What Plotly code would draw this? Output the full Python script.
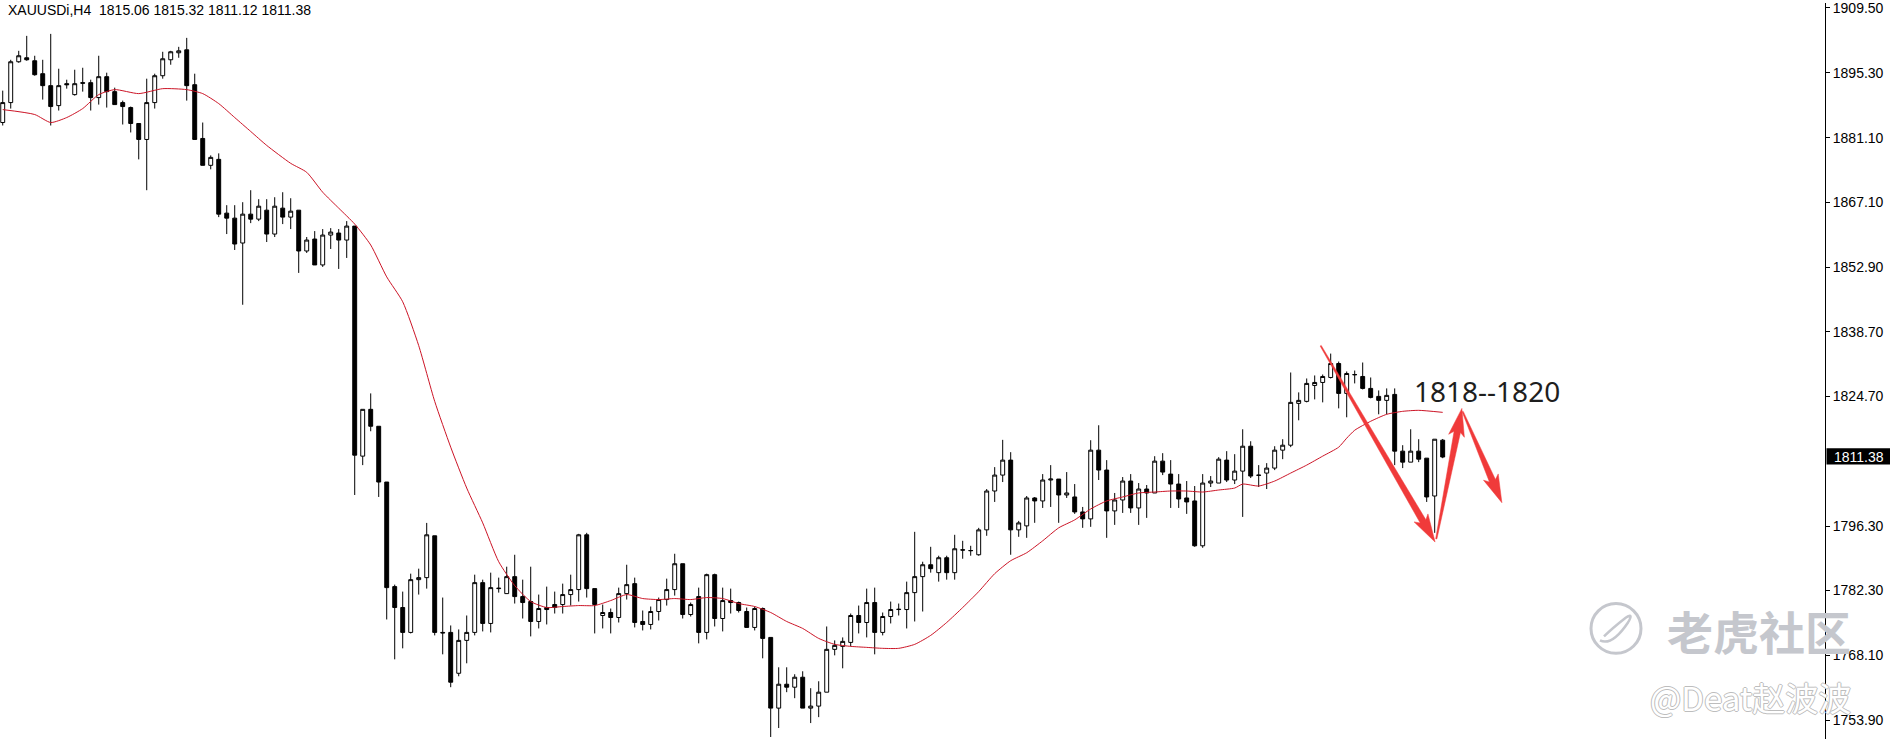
import math
import plotly.graph_objects as go

# ---------------- data ----------------
opens = [1884.47, 1888.83, 1897.75, 1898.62, 1897.97, 1895.14, 1892.53, 1888.17, 1892.96, 1890.57,
         1893.18, 1893.18, 1889.92, 1894.49, 1891.22, 1888.83, 1887.74, 1884.26, 1880.77, 1888.83,
         1894.70, 1898.19, 1899.71, 1900.36, 1892.74, 1880.99, 1875.12, 1876.42, 1864.67, 1863.58,
         1858.14, 1864.45, 1863.36, 1865.32, 1860.10, 1865.76, 1863.80, 1865.32, 1856.40, 1859.01,
         1853.35, 1859.88, 1860.32, 1858.79, 1861.84, 1811.57, 1821.80, 1818.10, 1805.91, 1783.06,
         1778.49, 1773.05, 1784.58, 1785.02, 1794.16, 1773.05, 1773.05, 1764.12, 1771.31, 1773.05,
         1783.93, 1775.01, 1782.62, 1781.53, 1785.24, 1780.88, 1779.80, 1775.44, 1778.49, 1779.14,
         1779.14, 1781.32, 1782.41, 1794.38, 1782.62, 1776.75, 1777.40, 1776.31, 1781.53, 1783.71,
         1775.44, 1774.79, 1777.62, 1780.23, 1782.41, 1788.06, 1776.96, 1780.88, 1773.05, 1785.67,
         1776.09, 1780.01, 1779.58, 1777.62, 1774.14, 1778.27, 1771.96, 1756.51, 1761.73, 1761.08,
         1763.26, 1756.51, 1756.95, 1759.99, 1769.35, 1770.00, 1770.87, 1776.75, 1775.22, 1779.58,
         1773.05, 1776.53, 1778.05, 1778.05, 1781.75, 1785.24, 1787.84, 1786.11, 1789.37, 1786.11,
         1791.11, 1790.89, 1790.02, 1795.46, 1803.95, 1807.43, 1810.70, 1795.46, 1796.33, 1802.43,
         1801.78, 1806.35, 1806.56, 1803.08, 1802.65, 1799.38, 1797.86, 1812.88, 1808.53, 1799.60,
         1801.99, 1806.13, 1800.25, 1804.38, 1803.52, 1810.48, 1807.65, 1805.47, 1802.43, 1801.78,
         1791.98, 1805.69, 1805.69, 1810.70, 1806.35, 1808.30, 1813.74, 1807.43, 1807.87, 1808.96,
         1812.88, 1813.96, 1823.10, 1823.54, 1827.02, 1827.67, 1828.76, 1831.81, 1825.28, 1829.41,
         1828.98, 1826.37, 1824.63, 1823.76, 1825.06, 1812.66, 1810.26, 1812.66, 1811.13, 1802.86,
         1815.06]
highs = [1891.44, 1898.18, 1900.14, 1903.41, 1899.06, 1898.18, 1903.84, 1896.23, 1893.83, 1896.01,
         1896.44, 1893.83, 1899.06, 1895.36, 1892.09, 1889.26, 1887.96, 1884.26, 1894.05, 1895.14,
         1899.93, 1900.14, 1901.01, 1902.97, 1895.14, 1884.47, 1877.29, 1877.73, 1866.41, 1866.41,
         1867.06, 1869.68, 1867.72, 1867.72, 1868.15, 1869.24, 1867.93, 1865.32, 1859.45, 1860.75,
         1861.19, 1861.40, 1861.19, 1862.93, 1861.84, 1821.80, 1825.28, 1818.10, 1805.91, 1783.49,
         1781.97, 1785.89, 1786.98, 1796.98, 1794.16, 1780.67, 1774.57, 1773.70, 1776.75, 1785.67,
         1784.58, 1786.11, 1785.02, 1787.41, 1790.02, 1784.58, 1787.41, 1781.32, 1783.06, 1781.97,
         1783.71, 1785.67, 1794.59, 1794.81, 1782.62, 1779.14, 1778.27, 1782.84, 1787.84, 1785.02,
         1777.84, 1778.71, 1780.67, 1784.80, 1790.24, 1788.06, 1779.58, 1782.84, 1785.89, 1785.89,
         1782.84, 1782.62, 1779.79, 1778.49, 1778.71, 1778.49, 1771.96, 1765.43, 1765.43, 1763.91,
         1764.56, 1760.86, 1762.38, 1774.35, 1771.31, 1771.96, 1777.18, 1778.92, 1782.62, 1782.84,
         1777.40, 1779.79, 1779.36, 1784.15, 1795.03, 1788.50, 1791.76, 1789.81, 1789.81, 1794.38,
         1793.07, 1791.98, 1795.90, 1804.38, 1809.17, 1815.13, 1812.44, 1797.42, 1802.86, 1802.64,
         1807.65, 1809.61, 1806.56, 1808.09, 1805.47, 1800.47, 1815.05, 1818.32, 1810.70, 1803.52,
         1807.00, 1807.65, 1805.69, 1805.26, 1811.56, 1812.22, 1810.70, 1807.65, 1806.13, 1805.04,
         1807.65, 1807.22, 1811.35, 1812.66, 1812.00, 1817.44, 1814.83, 1809.61, 1810.04, 1813.74,
         1815.27, 1829.85, 1825.50, 1828.54, 1829.20, 1829.41, 1833.98, 1832.24, 1830.07, 1830.28,
         1832.03, 1828.76, 1825.93, 1826.37, 1826.37, 1813.96, 1817.44, 1815.27, 1811.13, 1815.27,
         1815.32]
lows = [1883.82, 1887.52, 1897.53, 1897.97, 1894.70, 1889.48, 1883.82, 1887.09, 1891.87, 1890.35,
        1891.22, 1887.09, 1888.39, 1887.74, 1888.39, 1884.04, 1882.30, 1876.42, 1869.68, 1887.52,
        1894.05, 1897.10, 1898.62, 1889.26, 1880.77, 1875.12, 1874.25, 1863.80, 1860.10, 1856.62,
        1844.65, 1862.49, 1862.93, 1858.36, 1859.45, 1862.28, 1861.19, 1851.61, 1855.97, 1853.35,
        1852.92, 1856.84, 1852.48, 1854.88, 1803.08, 1809.61, 1817.01, 1802.65, 1775.88, 1767.17,
        1769.57, 1772.83, 1781.32, 1782.62, 1772.40, 1768.26, 1761.08, 1763.47, 1766.30, 1772.40,
        1773.27, 1773.05, 1781.75, 1781.53, 1779.36, 1776.09, 1772.18, 1773.92, 1774.79, 1777.18,
        1777.18, 1778.92, 1779.79, 1780.67, 1772.83, 1773.92, 1772.83, 1775.22, 1780.23, 1774.14,
        1773.48, 1773.70, 1775.66, 1778.92, 1781.10, 1776.09, 1776.53, 1770.66, 1771.52, 1774.35,
        1773.27, 1777.18, 1777.40, 1774.14, 1773.48, 1767.39, 1750.20, 1752.16, 1759.99, 1758.68,
        1756.51, 1753.24, 1754.54, 1759.99, 1768.04, 1765.21, 1770.00, 1772.83, 1771.96, 1768.26,
        1772.40, 1775.01, 1776.75, 1773.92, 1775.44, 1777.62, 1786.11, 1784.15, 1784.58, 1784.58,
        1789.15, 1789.81, 1789.81, 1794.16, 1801.56, 1805.91, 1790.02, 1793.94, 1793.72, 1797.00,
        1800.25, 1800.47, 1797.00, 1802.43, 1798.95, 1795.90, 1796.12, 1806.35, 1793.72, 1796.55,
        1799.16, 1799.16, 1796.55, 1798.08, 1803.52, 1807.43, 1800.25, 1800.25, 1798.95, 1791.76,
        1791.54, 1804.82, 1805.69, 1805.91, 1805.47, 1798.29, 1806.78, 1804.82, 1804.38, 1808.52,
        1810.91, 1813.53, 1819.40, 1823.32, 1823.97, 1823.32, 1828.54, 1822.01, 1820.06, 1827.46,
        1826.15, 1824.19, 1820.71, 1820.71, 1809.61, 1808.96, 1810.26, 1810.26, 1801.56, 1794.81,
        1811.12]
closes = [1888.83, 1897.75, 1899.06, 1898.19, 1894.92, 1892.53, 1887.96, 1892.53, 1892.74, 1892.96,
          1893.07, 1889.92, 1894.49, 1891.22, 1888.39, 1887.96, 1884.26, 1880.77, 1888.83, 1894.70,
          1898.40, 1899.93, 1900.14, 1892.53, 1880.77, 1875.12, 1876.86, 1864.45, 1863.58, 1857.92,
          1864.45, 1863.36, 1866.19, 1860.10, 1866.19, 1863.80, 1865.10, 1856.40, 1858.79, 1853.35,
          1859.88, 1860.53, 1858.79, 1861.84, 1811.78, 1821.80, 1818.10, 1805.91, 1782.84, 1778.49,
          1773.05, 1784.58, 1785.02, 1794.38, 1773.05, 1772.95, 1762.17, 1771.31, 1773.05, 1783.93,
          1775.01, 1782.84, 1782.70, 1785.24, 1780.88, 1779.58, 1775.44, 1778.27, 1778.05, 1778.49,
          1781.32, 1782.41, 1794.38, 1782.62, 1779.14, 1777.40, 1776.31, 1781.53, 1783.49, 1775.22,
          1774.79, 1777.62, 1780.23, 1782.41, 1788.06, 1776.96, 1779.14, 1773.05, 1785.67, 1776.09,
          1780.01, 1779.58, 1777.84, 1774.14, 1778.27, 1771.74, 1756.51, 1761.73, 1761.08, 1763.26,
          1756.51, 1756.95, 1759.99, 1769.35, 1770.22, 1771.09, 1776.75, 1775.22, 1779.58, 1773.05,
          1776.53, 1778.05, 1778.10, 1781.75, 1785.24, 1787.84, 1786.98, 1789.37, 1786.11, 1791.33,
          1791.05, 1790.95, 1795.46, 1803.95, 1807.43, 1810.70, 1795.46, 1796.98, 1802.43, 1801.78,
          1806.35, 1806.56, 1803.08, 1803.52, 1799.38, 1797.86, 1812.88, 1808.53, 1799.60, 1801.99,
          1806.13, 1800.25, 1804.38, 1803.52, 1810.48, 1808.09, 1805.47, 1802.21, 1801.56, 1791.98,
          1805.69, 1806.13, 1810.91, 1806.35, 1808.30, 1813.74, 1807.22, 1807.38, 1808.96, 1812.88,
          1813.96, 1823.32, 1823.76, 1827.46, 1827.67, 1828.98, 1831.81, 1825.28, 1829.63, 1829.36,
          1826.37, 1824.41, 1823.76, 1824.85, 1812.66, 1810.26, 1812.66, 1810.91, 1802.65, 1815.27,
          1811.38]

# moving average (red line) read at selected candles
ma_index = [0, 4, 6, 8, 10, 12, 14, 17, 20, 23, 25, 27, 29, 31, 33, 36, 38, 40, 42, 44, 46, 48, 50,
            52, 54, 56, 58, 60, 62, 64, 66, 68, 70, 72, 74, 76, 78, 80, 82, 84, 86, 88, 90, 92, 94,
            96, 98, 100, 102, 104, 106, 108, 110, 112, 114, 116, 118, 120, 122, 124, 126, 128, 130,
            132, 134, 136, 138, 140, 142, 144, 146, 148, 150, 152, 154, 155, 157, 159, 161, 163, 165,
            167, 168, 169, 171, 173, 175, 177, 180]
ma_value = [1887.30, 1886.22, 1884.47, 1885.56, 1887.52, 1890.57, 1891.66, 1890.79, 1891.87, 1891.66,
            1890.79, 1888.61, 1885.56, 1882.52, 1879.47, 1875.55, 1873.59, 1869.24, 1865.76, 1862.28,
            1857.71, 1850.74, 1845.30, 1835.72, 1823.54, 1813.53, 1804.60, 1796.99, 1788.50, 1783.28,
            1779.80, 1778.49, 1778.71, 1778.92, 1778.92, 1780.01, 1781.32, 1780.45, 1780.23, 1780.45,
            1780.23, 1780.67, 1780.45, 1779.36, 1778.71, 1777.40, 1775.44, 1773.92, 1771.74, 1770.44,
            1770.00, 1769.78, 1769.57, 1769.57, 1770.44, 1772.40, 1775.22, 1778.49, 1781.97, 1785.89,
            1788.72, 1790.46, 1793.07, 1795.90, 1797.64, 1800.03, 1801.78, 1802.65, 1803.52, 1803.73,
            1803.95, 1803.95, 1803.73, 1804.17, 1804.60, 1805.47, 1805.04, 1806.13, 1807.87, 1809.61,
            1811.57, 1813.53, 1815.49, 1817.23, 1819.19, 1820.71, 1821.36, 1821.58, 1821.14]

y_tick_values = [1909.50, 1895.30, 1881.10, 1867.10, 1852.90, 1838.70, 1824.70,
                 1796.30, 1782.30, 1768.10, 1753.90]
last_price = 1811.38
header_text = "XAUUSDi,H4  1815.06 1815.32 1811.12 1811.38"
target_text = "1818--1820"
# hand-drawn arrows: (candle index, price) start -> tip
arrow_paths = [((164.75, 1835.7), (179.05, 1792.8)),
               ((179.2, 1793.5), (182.4, 1822.0)),
               ((182.5, 1821.3), (187.4, 1801.4))]

# ---------------- layout geometry ----------------
W, H = 1890, 739
PLOT_W = 1825
x_range = [-0.34, 227.79]
y_range = [1749.76, 1910.59]


def to_px(i, p):
    x = (i - x_range[0]) / (x_range[1] - x_range[0]) * PLOT_W
    y = (y_range[1] - p) / (y_range[1] - y_range[0]) * H
    return x, y


def to_data(x, y):
    i = x_range[0] + x / PLOT_W * (x_range[1] - x_range[0])
    p = y_range[1] - y / H * (y_range[1] - y_range[0])
    return i, p


def arrow_polygon(start, tip, w0=1.2, w1=6.5, head_len=24.0, head_w=16.0):
    sx, sy = to_px(*start)
    ex, ey = to_px(*tip)
    dx, dy = ex - sx, ey - sy
    L = math.hypot(dx, dy)
    ux, uy = dx / L, dy / L
    nx, ny = -uy, ux
    bx, by = ex - ux * head_len, ey - uy * head_len
    pts = [(sx + nx * w0 / 2, sy + ny * w0 / 2),
           (bx + nx * w1 / 2, by + ny * w1 / 2),
           (bx + nx * head_w / 2 - ux * 4, by + ny * head_w / 2 - uy * 4),
           (ex, ey),
           (bx - nx * head_w / 2 - ux * 4, by - ny * head_w / 2 - uy * 4),
           (bx - nx * w1 / 2, by - ny * w1 / 2),
           (sx - nx * w0 / 2, sy - ny * w0 / 2)]
    pts.append(pts[0])
    data = [to_data(x, y) for x, y in pts]
    return [d[0] for d in data], [d[1] for d in data]


def paper_x(px):
    return px / PLOT_W


def paper_y(py):
    return 1 - py / H


candle_x = list(range(len(opens)))

fig = go.Figure()
fig.add_trace(go.Candlestick(
    x=candle_x, open=opens, high=highs, low=lows, close=closes,
    increasing=dict(line=dict(color="black", width=1), fillcolor="white"),
    decreasing=dict(line=dict(color="black", width=1), fillcolor="black"),
    whiskerwidth=0, hoverinfo="skip", showlegend=False,
))
fig.add_trace(go.Scatter(
    x=ma_index, y=ma_value, mode="lines",
    line=dict(color="#cc1426", width=1, shape="spline", smoothing=0.6),
    hoverinfo="skip", showlegend=False,
))
for start, tip in arrow_paths:
    ax, ay = arrow_polygon(start, tip)
    fig.add_trace(go.Scatter(
        x=ax, y=ay, mode="lines", fill="toself", fillcolor="#f03a3a",
        line=dict(color="#f03a3a", width=0.5), hoverinfo="skip", showlegend=False,
    ))

annotations = [
    dict(text=header_text, xref="paper", yref="paper", x=0, y=1, xanchor="left", yanchor="top",
         xshift=6, yshift=3, showarrow=False,
         font=dict(family="Liberation Sans", size=14, color="black")),
    dict(text=target_text, xref="x", yref="y", x=185.5, y=1825.8, xanchor="center",
         yanchor="middle", showarrow=False,
         font=dict(family="Noto Sans", size=28, color="#1e1e1e")),
    dict(text=f"{last_price:.2f}", xref="paper", yref="y", x=1, y=last_price,
         xanchor="left", yanchor="middle", xshift=7, showarrow=False,
         font=dict(family="Liberation Sans", size=14, color="white")),
    dict(text="老虎社区", xref="paper", yref="paper", x=paper_x(1759), y=paper_y(630),
         xanchor="center", yanchor="middle", showarrow=False,
         font=dict(family="Noto Sans CJK SC", size=46, color="#c5c7cd", weight="bold")),
    dict(text="@Deat赵波波", xref="paper", yref="paper", x=paper_x(1750), y=paper_y(697),
         xanchor="center", yanchor="middle", showarrow=False,
         font=dict(family="Noto Sans CJK SC", size=33, color="#ffffff",
                   shadow="1px 0 0 #bdbdbd, -1px 0 0 #bdbdbd, 0 1px 0 #bdbdbd, 0 -1px 0 #bdbdbd")),
]

shapes = [
    # black price box on the axis
    dict(type="rect", xref="paper", yref="paper", x0=paper_x(1826.5), x1=paper_x(1892),
         y0=paper_y(463.5), y1=paper_y(447), fillcolor="black", line=dict(width=0), layer="below"),
    # watermark logo ring
    dict(type="circle", xref="paper", yref="paper", x0=paper_x(1591), x1=paper_x(1641),
         y0=paper_y(653), y1=paper_y(603), line=dict(color="#c5c7cd", width=3), layer="above"),
    dict(type="path", xref="paper", yref="paper", layer="above",
         path=(f"M {paper_x(1600)},{paper_y(640)} "
               f"Q {paper_x(1612)},{paper_y(646)} {paper_x(1628)},{paper_y(622)} "
               f"Q {paper_x(1634)},{paper_y(612)} {paper_x(1626)},{paper_y(617)} "
               f"Q {paper_x(1612)},{paper_y(628)} {paper_x(1604)},{paper_y(636)}"),
         line=dict(color="#c5c7cd", width=2.5)),
]

fig.update_layout(
    width=W, height=H,
    margin=dict(l=0, r=W - PLOT_W, t=0, b=0),
    paper_bgcolor="white", plot_bgcolor="white",
    showlegend=False,
    annotations=annotations,
    shapes=shapes,
    xaxis=dict(range=x_range, showgrid=False, zeroline=False, showticklabels=False,
               showline=False, ticks="", rangeslider=dict(visible=False), fixedrange=True),
    yaxis=dict(range=y_range, side="right", showgrid=False, zeroline=False,
               showline=True, linecolor="black", linewidth=1,
               ticks="outside", ticklen=4, tickwidth=1, tickcolor="black",
               tickvals=y_tick_values, ticktext=[f"{v:.2f}" for v in y_tick_values],
               tickfont=dict(family="Liberation Sans", size=14, color="black"),
               ticklabeloverflow="allow", fixedrange=True),
)

fig.write_html(
    "out.html",
    config={"displayModeBar": False},
    post_script="document.body.style.margin='0px';document.body.style.overflow='hidden';",
)
